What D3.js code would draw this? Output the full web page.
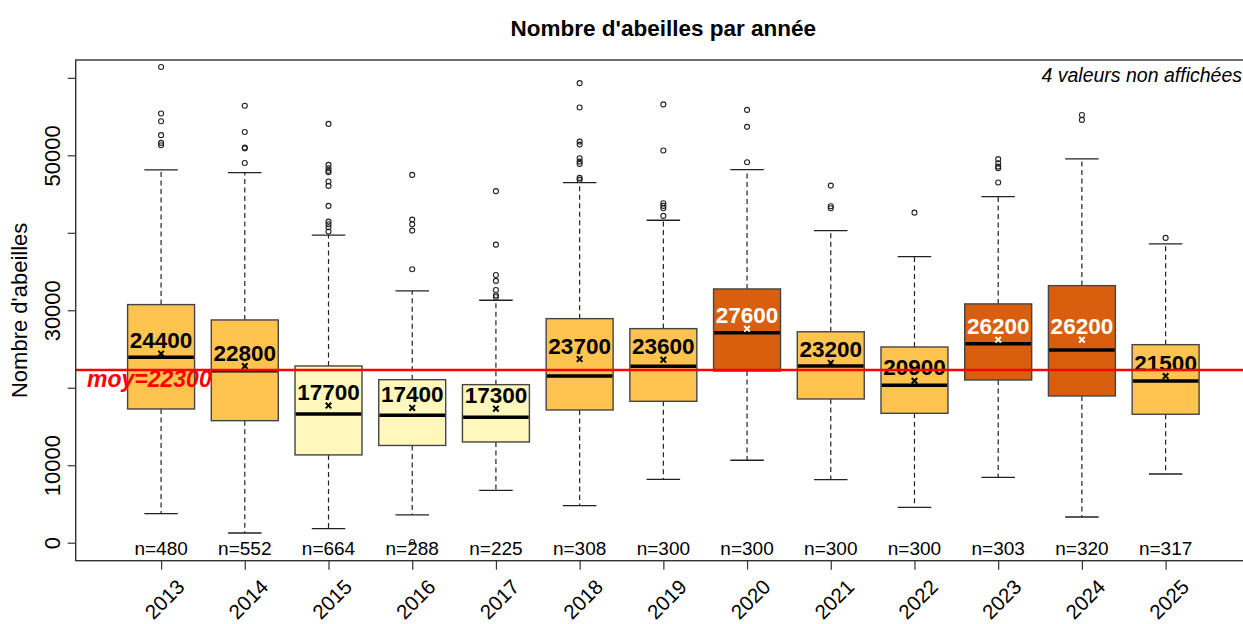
<!DOCTYPE html>
<html>
<head>
<meta charset="utf-8">
<script src="https://cdn.jsdelivr.net/npm/d3@7"></script>
<style>
  body { margin: 0; background: #fff; }
  text { font-family: "Liberation Sans", Arial, sans-serif; }
</style>
</head>
<body>
<div id="canvas"></div>
<script>
// values
const years = ['2013', '2014', '2015', '2016', '2017', '2018', '2019', '2020', '2021', '2022', '2023', '2024', '2025'];
const whiskerLow = [3740, 1250, 1810, 3580, 6760, 4780, 8180, 10640, 8130, 4570, 8440, 3320, 8870];
const q1 = [17260, 15750, 11330, 12550, 13000, 17130, 18250, 22160, 18550, 16700, 21000, 18940, 16580];
const median = [23930, 22200, 16600, 16450, 16190, 21520, 22770, 27090, 22790, 20320, 25690, 24880, 20880];
const q3 = [30730, 28750, 22810, 21040, 20400, 28920, 27630, 32750, 27220, 25260, 30820, 33180, 25560];
const whiskerHigh = [48130, 47770, 39690, 32490, 31290, 46480, 41620, 48150, 40280, 36920, 44670, 49540, 38560];
const means = [24400, 22800, 17700, 17400, 17300, 23700, 23600, 27600, 23200, 20900, 26200, 26200, 21500];
const counts = [480, 552, 664, 288, 225, 308, 300, 300, 300, 300, 303, 320, 317];
const outliers = [
  [61400, 55400, 54400, 52600, 51600, 51300],
  [56400, 53000, 51000, 50900, 49000],
  [54050, 48760, 48330, 47990, 47820, 46610, 46050, 43470, 41440, 41100, 40720, 40150],
  [47470, 41700, 41100, 40280, 35300, 100],
  [45370, 38470, 34560, 33790, 32620, 31940, 31720],
  [59310, 56160, 51770, 51380, 49620, 49190, 48890, 47080, 46830],
  [56570, 50610, 43820, 43470, 43170, 42180],
  [55860, 53670, 49100],
  [46090, 43430, 43170],
  [42600],
  [49500, 48980, 48540, 48330, 46480],
  [55200, 54570],
  [39340]
];
const overallMean = 22300;
const yTicks = [0, 10000, 20000, 30000, 40000, 50000, 60000];
const yTickLabels = [0, 10000, 30000, 50000];

const width = 1243;
const height = 624;
const margin = { top: 60, left: 75.7, right: -8, bottom: 63.3 };

const svg = d3.select('#canvas').append('svg')
    .attr('width', width)
    .attr('height', height)
    .attr('viewBox', [0, 0, width, height]);

const plotRight = width - margin.right;
const plotBottom = height - margin.bottom;

const x = d3.scalePoint()
    .domain(years)
    .range([margin.left, plotRight])
    .padding(1.02);

const boxW = x.step() * 0.8;

const y = d3.scaleLinear()
    .domain([-2323, 62300])
    .range([plotBottom, margin.top]);

const fillColor = d3.scaleThreshold()
    .domain([20000, 26000])
    .range(['#FFF7BC', '#FEC44F', '#D95F0E']);

const textColor = d3.scaleThreshold()
    .domain([26000])
    .range(['#000', '#fff']);

const data = years.map((yr, i) => ({
  year: yr, low: whiskerLow[i], q1: q1[i], med: median[i], q3: q3[i],
  high: whiskerHigh[i], mean: means[i], n: counts[i], out: outliers[i]
}));

// clip to plot area
svg.append('clipPath').attr('id', 'plotclip')
  .append('rect')
    .attr('x', margin.left).attr('y', margin.top)
    .attr('width', plotRight - margin.left).attr('height', plotBottom - margin.top);

// title
svg.append('text')
    .attr('x', (margin.left + plotRight) / 2)
    .attr('y', 36)
    .attr('text-anchor', 'middle')
    .attr('font-size', 22.5)
    .attr('font-weight', 'bold')
    .text("Nombre d'abeilles par année");

// y axis
const yAxis = svg.append('g')
    .attr('transform', `translate(${margin.left},0)`)
    .call(d3.axisLeft(y)
        .tickValues(yTicks)
        .tickSize(8)
        .tickFormat(d => yTickLabels.includes(d) ? d : ''));
yAxis.select('.domain').remove();
yAxis.selectAll('line').attr('stroke', '#333').attr('stroke-width', 1.2);
yAxis.selectAll('text')
    .attr('x', 0).attr('dy', 0)
    .attr('text-anchor', 'middle')
    .attr('transform', 'translate(-16,0) rotate(-90)')
    .attr('font-size', 22)
    .attr('font-family', '"Liberation Sans", Arial, sans-serif')
    .attr('fill', '#000');

svg.append('text')
    .attr('transform', `translate(27,${(margin.top + plotBottom) / 2}) rotate(-90)`)
    .attr('text-anchor', 'middle')
    .attr('font-size', 22)
    .text("Nombre d'abeilles");

// x axis
const xAxis = svg.append('g')
    .attr('transform', `translate(0,${plotBottom})`)
    .call(d3.axisBottom(x).tickSize(9));
xAxis.select('.domain').remove();
xAxis.selectAll('line').attr('stroke', '#333').attr('stroke-width', 1.2);
xAxis.selectAll('text')
    .attr('y', 0).attr('dy', '0.35em')
    .attr('text-anchor', 'middle')
    .attr('transform', 'translate(3,38.5) rotate(-45)')
    .attr('font-size', 20.5)
    .attr('font-family', '"Liberation Sans", Arial, sans-serif')
    .attr('fill', '#000');

const plot = svg.append('g').attr('clip-path', 'url(#plotclip)');

const boxes = plot.selectAll('g.box')
  .data(data)
  .join('g')
    .attr('class', 'box')
    .attr('transform', d => `translate(${x(d.year)},0)`);

// whiskers
boxes.append('line')
    .attr('y1', d => y(d.q3)).attr('y2', d => y(d.high))
    .attr('stroke', '#222').attr('stroke-width', 1.2).attr('stroke-dasharray', '5,3.5');
boxes.append('line')
    .attr('y1', d => y(d.q1)).attr('y2', d => y(d.low))
    .attr('stroke', '#222').attr('stroke-width', 1.2).attr('stroke-dasharray', '5,3.5');
boxes.append('line')
    .attr('x1', -boxW / 4).attr('x2', boxW / 4)
    .attr('y1', d => y(d.high)).attr('y2', d => y(d.high))
    .attr('stroke', '#222').attr('stroke-width', 1.3);
boxes.append('line')
    .attr('x1', -boxW / 4).attr('x2', boxW / 4)
    .attr('y1', d => y(d.low)).attr('y2', d => y(d.low))
    .attr('stroke', '#222').attr('stroke-width', 1.3);

// box
boxes.append('rect')
    .attr('x', -boxW / 2).attr('width', boxW)
    .attr('y', d => y(d.q3))
    .attr('height', d => y(d.q1) - y(d.q3))
    .attr('fill', d => fillColor(d.mean))
    .attr('stroke', '#444').attr('stroke-width', 1.4);

// median
boxes.append('line')
    .attr('x1', -boxW / 2 + 0.7).attr('x2', boxW / 2 - 0.7)
    .attr('y1', d => y(d.med)).attr('y2', d => y(d.med))
    .attr('stroke', '#000').attr('stroke-width', 3.5);

// outliers
boxes.selectAll('circle')
  .data(d => d.out)
  .join('circle')
    .attr('cy', v => y(v))
    .attr('r', 2.5)
    .attr('fill', 'none')
    .attr('stroke', '#222').attr('stroke-width', 1.1);

// overall mean line
plot.append('line')
    .attr('x1', margin.left).attr('x2', plotRight)
    .attr('y1', y(overallMean)).attr('y2', y(overallMean))
    .attr('stroke', '#FF0000').attr('stroke-width', 2.5);

// mean markers and labels
boxes.append('path')
    .attr('transform', d => `translate(0,${y(d.mean)})`)
    .attr('d', d3.symbol(d3.symbolX, 22))
    .attr('fill', 'none')
    .attr('stroke', d => textColor(d.mean))
    .attr('stroke-width', 2);

boxes.append('text')
    .attr('y', d => y(d.mean) - 5.5)
    .attr('text-anchor', 'middle')
    .attr('font-size', 22.5)
    .attr('font-weight', 'bold')
    .attr('fill', d => textColor(d.mean))
    .text(d => d3.format('d')(d.mean));

// counts
boxes.append('text')
    .attr('y', 555)
    .attr('text-anchor', 'middle')
    .attr('font-size', 19)
    .text(d => 'n=' + d.n);

plot.append('text')
    .attr('x', 87)
    .attr('y', 387)
    .attr('font-size', 23)
    .attr('font-weight', 'bold')
    .attr('font-style', 'italic')
    .attr('fill', '#FF0000')
    .text('moy=' + overallMean);

svg.append('text')
    .attr('x', 1242)
    .attr('y', 82)
    .attr('text-anchor', 'end')
    .attr('font-size', 19.5)
    .attr('font-style', 'italic')
    .text('4 valeurs non affichées');

// frame
svg.append('rect')
    .attr('x', margin.left).attr('y', margin.top)
    .attr('width', plotRight - margin.left).attr('height', plotBottom - margin.top)
    .attr('fill', 'none')
    .attr('stroke', '#333').attr('stroke-width', 1.4);
</script>
</body>
</html>
